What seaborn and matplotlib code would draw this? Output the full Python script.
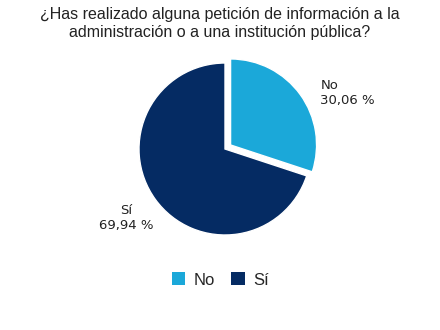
import matplotlib
matplotlib.use("Agg")
import matplotlib.pyplot as plt
import seaborn as sns
from matplotlib.patches import Patch

categories = ["No", "Sí"]
values = [30.06, 69.94]
colors = ["#1ba8d9", "#052b63"]
title = "¿Has realizado alguna petición de información a la\nadministración o a una institución pública?"

sns.set_theme(style="white")
plt.rcParams["font.family"] = ["Liberation Sans", "DejaVu Sans"]

fig = plt.figure(figsize=(4.4, 3.3), dpi=100)
W, H = 440, 330
cx, cy, r = 225, 149, 86
lim = 1.6
size = 2 * lim * r
ax = fig.add_axes([(cx - size / 2) / W, (H - cy - size / 2) / H, size / W, size / H])

labels = [f"{c}\n{v:.2f} %".replace(".", ",") for c, v in zip(categories, values)]
wedges, texts = ax.pie(values, colors=colors, startangle=90, counterclock=False,
                       explode=[0.08, 0], labels=labels, labeldistance=1.3,
                       textprops=dict(fontsize=9.5, family="DejaVu Sans", color="#222222"))
ax.set_xlim(-lim, lim)
ax.set_ylim(-lim, lim)
ax.set_aspect("equal")
ax.axis("off")

texts[0].set_position((1.11, 0.65))
texts[0].set_ha("left")
texts[0].set_multialignment("left")
texts[1].set_position((-1.15, -0.8))
texts[1].set_ha("center")
texts[1].set_multialignment("center")

fig.text(0.5, 1 - 24 / H, title, ha="center", va="center", fontsize=11.5,
         color="#222222", linespacing=1.25)

handles = [Patch(facecolor=c, edgecolor="none") for c in colors]
fig.legend(handles, categories, loc="center", bbox_to_anchor=(0.5, 1 - 280 / H),
           ncol=2, frameon=False, fontsize=12, handlelength=0.8, handleheight=0.8,
           handletextpad=0.5, columnspacing=1.0)

fig.savefig("out.png", dpi=100, facecolor="white")
